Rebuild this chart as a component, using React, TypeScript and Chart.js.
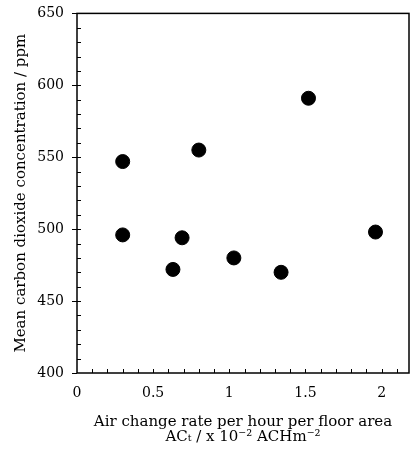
import React, { useEffect, useRef } from "react";
import { Chart, registerables } from "chart.js";

Chart.register(...registerables);

const airChangeRate: number[] = [0.3, 0.3, 0.63, 0.69, 0.8, 1.03, 1.34, 1.52, 1.96];
const co2Ppm: number[] = [547, 496, 472, 494, 555, 480, 470, 591, 498];
const xTickValues: number[] = [0, 0.5, 1, 1.5, 2];
const yTickValues: number[] = [400, 450, 500, 550, 600, 650];
const yTitle = "Mean carbon dioxide concentration / ppm";
const xTitle: string[] = ["Air change rate per hour per floor area", "ACₜ / x 10⁻² ACHm⁻²"];

const FONT = "'DejaVu Serif', 'Liberation Serif', serif";

const framePlugin = {
  id: "frameAndMinorTicks",
  afterDraw(chart: any) {
    const { ctx, chartArea, scales } = chart;
    const xs = scales.x;
    const ys = scales.y;
    ctx.save();
    ctx.strokeStyle = "#000";
    ctx.lineWidth = 1.5;
    ctx.strokeRect(chartArea.left, chartArea.top, chartArea.right - chartArea.left, chartArea.bottom - chartArea.top);
    ctx.lineWidth = 1;
    ctx.beginPath();
    for (let v = 0.1; v < xs.max; v += 0.1) {
      const px = Math.round(xs.getPixelForValue(v)) + 0.5;
      ctx.moveTo(px, chartArea.bottom);
      ctx.lineTo(px, chartArea.bottom - 4);
    }
    for (let v = 410; v < ys.max; v += 10) {
      const py = Math.round(ys.getPixelForValue(v)) + 0.5;
      ctx.moveTo(chartArea.left, py);
      ctx.lineTo(chartArea.left + 4, py);
    }
    for (const v of yTickValues) {
      const py = Math.round(ys.getPixelForValue(v)) + 0.5;
      ctx.moveTo(chartArea.left, py);
      ctx.lineTo(chartArea.left - 5, py);
    }
    ctx.stroke();
    ctx.restore();
  },
};

export default function App() {
  const ref = useRef<HTMLCanvasElement | null>(null);
  useEffect(() => {
    if (!ref.current) return;
    const chart = new Chart(ref.current, {
      type: "scatter",
      data: {
        datasets: [
          {
            data: airChangeRate.map((x, i) => ({ x, y: co2Ppm[i] })),
            backgroundColor: "#000",
            borderColor: "#000",
            pointRadius: 7,
            pointHoverRadius: 7,
          },
        ],
      },
      options: {
        animation: false,
        responsive: false,
        maintainAspectRatio: false,
        layout: { autoPadding: false, padding: { top: 11, right: 1, left: 0, bottom: 0 } },
        plugins: { legend: { display: false }, tooltip: { enabled: false } },
        scales: {
          x: {
            type: "linear",
            min: 0,
            max: 2.18,
            grid: { display: false },
            border: { display: false },
            afterBuildTicks: (s: any) => {
              s.ticks = xTickValues.map((value) => ({ value }));
            },
            afterFit: (s: any) => {
              s.height = 82;
            },
            ticks: {
              padding: 4,
              color: "#000",
              font: { family: FONT, size: 14 },
              callback: (v: any) => String(v),
            },
            title: {
              display: true,
              text: xTitle,
              color: "#000",
              font: { family: FONT, size: 15, lineHeight: 1.0 },
              padding: { top: 14, bottom: 10 },
            },
          },
          y: {
            type: "linear",
            min: 400,
            max: 650,
            grid: { display: false },
            border: { display: false },
            afterBuildTicks: (s: any) => {
              s.ticks = yTickValues.map((value) => ({ value }));
            },
            afterFit: (s: any) => {
              s.width = 77;
            },
            ticks: {
              padding: 5,
              color: "#000",
              font: { family: FONT, size: 14 },
            },
            title: {
              display: true,
              text: yTitle,
              color: "#000",
              font: { family: FONT, size: 15 },
              padding: { top: 12, bottom: 0 },
            },
          },
        },
      },
      plugins: [framePlugin],
    });
    return () => chart.destroy();
  }, []);
  return (
    <div style={{ position: "fixed", left: 0, top: 0, width: 410, height: 455, background: "#fff" }}>
      <canvas ref={ref} width={410} height={455} />
    </div>
  );
}
